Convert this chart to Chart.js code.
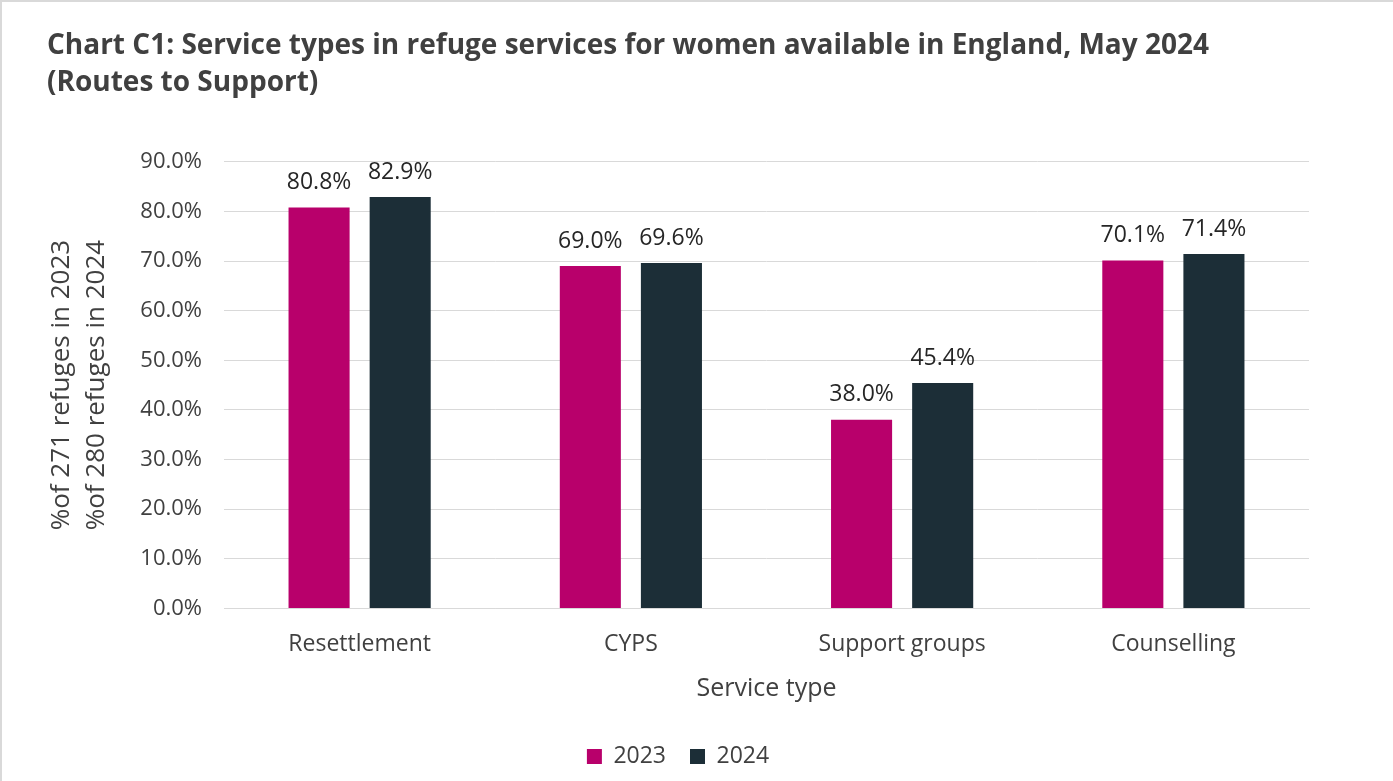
<!DOCTYPE html>
<html>
<head>
<meta charset="utf-8">
<script src="https://cdn.jsdelivr.net/npm/chart.js@4"></script>
<style>
  html, body { margin: 0; padding: 0; background: #fff; }
  #wrap {
    width: 1391px; height: 779px;
    border-top: 2px solid #d9d9d9;
    border-left: 2px solid #d9d9d9;
    position: relative;
  }
</style>
</head>
<body>
<div id="wrap"><canvas id="chart" width="1391" height="779"></canvas></div>
<script>
const categories = ["Resettlement", "CYPS", "Support groups", "Counselling"];
const values2023 = [80.8, 69.0, 38.0, 70.1];
const values2024 = [82.9, 69.6, 45.4, 71.4];
const seriesNames = ["2023", "2024"];
const seriesColors = ["#b8006b", "#1c2e37"];

const textColor = "#404040";
const fontFamily = "'Open Sans', 'Noto Sans', sans-serif";

// labels over each bar
const barLabels = {
  id: "barLabels",
  afterDatasetsDraw(chart){
    const ctx = chart.ctx;
    ctx.save();
    ctx.font = "23px " + fontFamily;
    ctx.fillStyle = "#262626";
    ctx.textAlign = "center";
    ctx.textBaseline = "middle";
    chart.data.datasets.forEach((ds, i) => {
      chart.getDatasetMeta(i).data.forEach((bar, j) => {
        ctx.fillText(ds.data[j].toFixed(1) + "%", bar.x, bar.y - 25);
      });
    });
    ctx.restore();
  }
};

new Chart(document.getElementById("chart"), {
  type: "bar",
  data: {
    labels: categories,
    datasets: [
      { label: seriesNames[0], data: values2023, backgroundColor: seriesColors[0] },
      { label: seriesNames[1], data: values2024, backgroundColor: seriesColors[1] }
    ]
  },
  options: {
    responsive: false,
    animation: false,
    layout: { padding: { left: 45, right: 84, top: 18, bottom: 3 } },
    datasets: { bar: { barPercentage: 0.753, categoryPercentage: 0.598 } },
    plugins: {
      tooltip: { enabled: false },
      title: {
        display: true,
        align: "start",
        text: ["Chart C1: Service types in refuge services for women available in England, May 2024", "(Routes to Support)"],
        color: textColor,
        font: { family: fontFamily, size: 28, weight: "bold", lineHeight: 1.3 },
        padding: { top: 8, bottom: 61 }
      },
      legend: {
        position: "bottom",
        labels: {
          color: textColor,
          font: { family: fontFamily, size: 23 },
          boxWidth: 15, boxHeight: 15,
          padding: 24
        }
      }
    },
    scales: {
      x: {
        grid: { display: false, drawTicks: false },
        border: { display: true, color: "#d9d9d9" },
        ticks: { color: textColor, font: { family: fontFamily, size: 23 }, padding: 22 },
        title: {
          display: true, text: "Service type", color: textColor,
          font: { family: fontFamily, size: 25 }, padding: { top: -6, bottom: 17 }
        }
      },
      y: {
        min: 0, max: 90,
        afterFit(scale){ scale.width = 177; },
        grid: { color: "#d9d9d9", drawTicks: false },
        border: { display: false },
        ticks: {
          stepSize: 10,
          color: textColor,
          font: { family: fontFamily, size: 22 },
          padding: 22,
          callback: v => v.toFixed(1) + "%"
        },
        title: {
          display: true,
          text: ["%of 271 refuges in 2023", "%of 280 refuges in 2024"],
          color: textColor,
          font: { family: fontFamily, size: 26, lineHeight: 1.35 },
          padding: { top: -3, bottom: 0 }
        }
      }
    }
  },
  plugins: [barLabels]
});
</script>
</body>
</html>
